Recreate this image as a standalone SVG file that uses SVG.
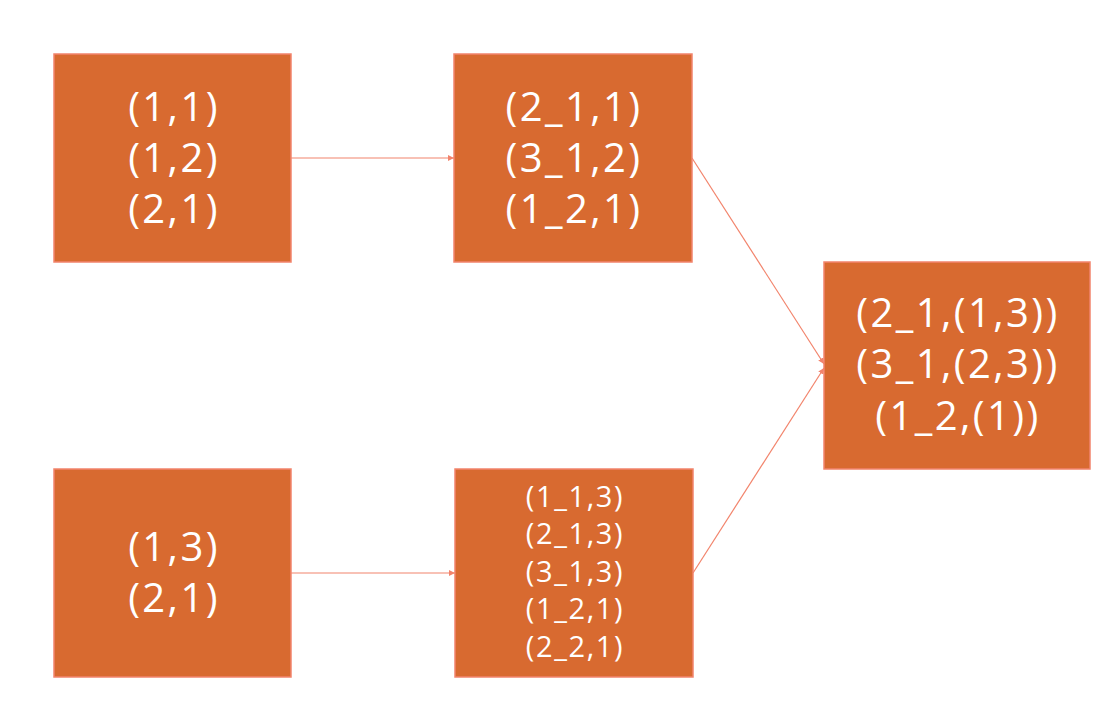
<svg xmlns="http://www.w3.org/2000/svg" width="1114" height="722" viewBox="0 0 1114 722">
<style>
.box{fill:#D86A30;stroke:#F2846C;stroke-width:1.5}
.t{fill:#FFFFFF;font-family:"Open Sans","Noto Sans",sans-serif;text-anchor:middle;font-weight:500}
.big{font-size:40px;letter-spacing:2.4px}
.small{font-size:29px;letter-spacing:1.6px}
.conn{stroke:#F2846C;stroke-width:1.2;fill:none;marker-end:url(#ah)}
</style>
<defs>
<marker id="ah" viewBox="0 0 10 10" refX="10" refY="5" markerWidth="6" markerHeight="6" orient="auto" markerUnits="userSpaceOnUse">
<path d="M0,0 L10,5 L0,10 z" fill="#F2846C"/>
</marker>
</defs>
<rect width="1114" height="722" fill="#FFFFFF"/>
<g id="connectors">
<line class="conn" x1="291" y1="158" x2="454" y2="158"/>
<line class="conn" x1="291" y1="573" x2="455" y2="573"/>
<line class="conn" x1="692" y1="158" x2="824" y2="364"/>
<line class="conn" x1="693" y1="573" x2="824" y2="368"/>
</g>
<g id="n1">
<rect class="box" x="54" y="54" width="237" height="208"/>
<text class="t big" x="174" y="121">(1,1)</text>
<text class="t big" x="174" y="172">(1,2)</text>
<text class="t big" x="174" y="223">(2,1)</text>
</g>
<g id="n2">
<rect class="box" x="454" y="54" width="238" height="208"/>
<text class="t big" x="574" y="121">(2_1,1)</text>
<text class="t big" x="574" y="172">(3_1,2)</text>
<text class="t big" x="574" y="223">(1_2,1)</text>
</g>
<g id="n3">
<rect class="box" x="54" y="469" width="237" height="208"/>
<text class="t big" x="174" y="561">(1,3)</text>
<text class="t big" x="174" y="612">(2,1)</text>
</g>
<g id="n4">
<rect class="box" x="455" y="469" width="238" height="208"/>
<text class="t small" x="575" y="507">(1_1,3)</text>
<text class="t small" x="575" y="544">(2_1,3)</text>
<text class="t small" x="575" y="582">(3_1,3)</text>
<text class="t small" x="575" y="619">(1_2,1)</text>
<text class="t small" x="575" y="657">(2_2,1)</text>
</g>
<g id="n5">
<rect class="box" x="824" y="262" width="266" height="207"/>
<text class="t big" x="958" y="327">(2_1,(1,3))</text>
<text class="t big" x="958" y="378">(3_1,(2,3))</text>
<text class="t big" x="958" y="430">(1_2,(1))</text>
</g>
</svg>
